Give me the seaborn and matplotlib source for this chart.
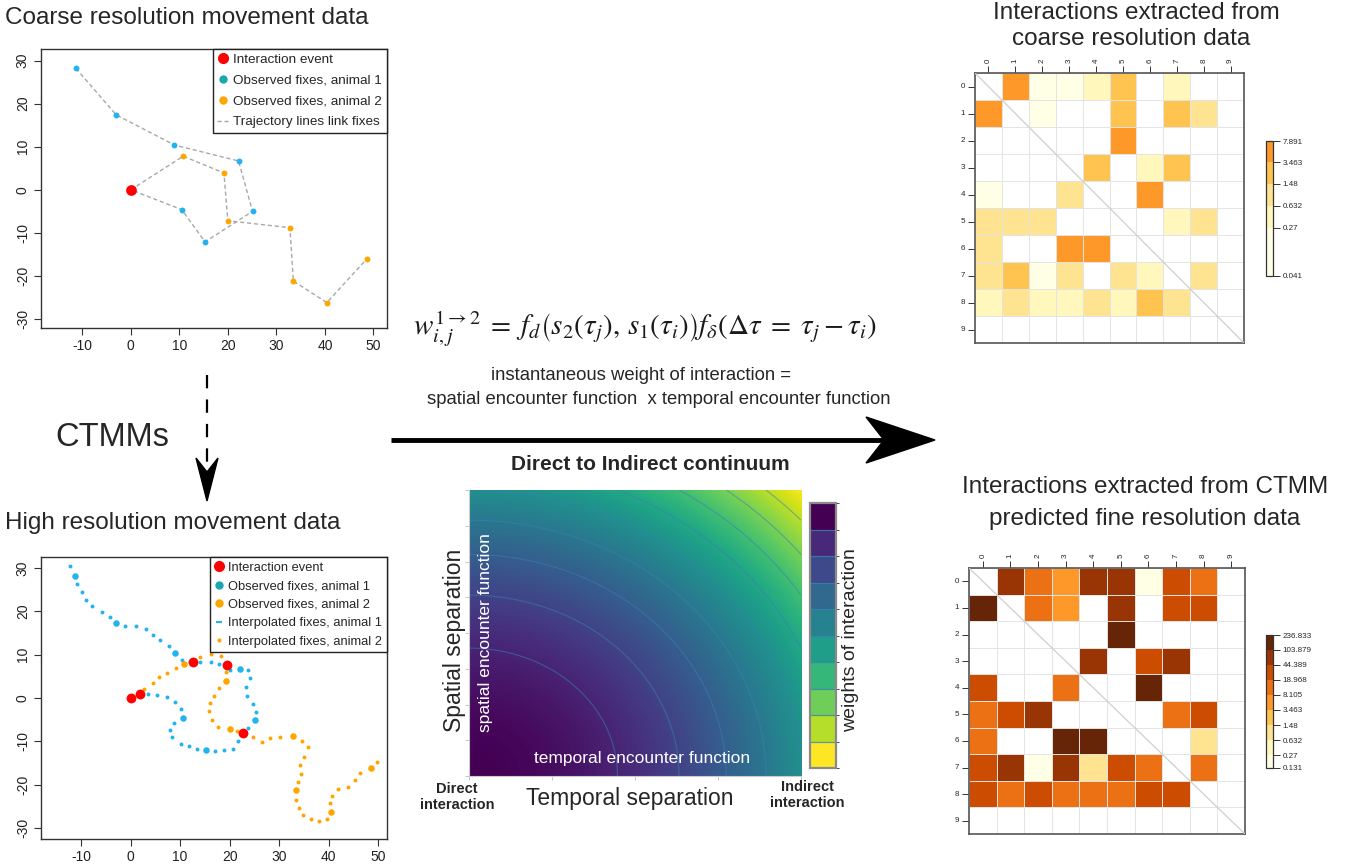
import numpy as np
import pandas as pd
import matplotlib
matplotlib.use("Agg")
import matplotlib.pyplot as plt
import seaborn as sns
from matplotlib.colors import ListedColormap, BoundaryNorm
from matplotlib.cm import ScalarMappable
from matplotlib.lines import Line2D
from matplotlib.patches import Polygon

sns.set_style("white")
plt.rcParams['font.family'] = ['Liberation Sans', 'DejaVu Sans']
plt.rcParams['mathtext.fontset'] = 'stix'
plt.rcParams['axes.unicode_minus'] = False

# ---------------- data ----------------
# coarse observed fixes
obs_a1_x = [-11.3, -3.0, 9.0, 22.2, 25.1, 15.3, 10.5, 0.0]
obs_a1_y = [28.2, 17.4, 10.4, 6.7, -5.0, -12.1, -4.6, 0.0]
obs_a2_x = [0.0, 10.8, 19.2, 20.0, 32.8, 33.5, 40.4, 48.6]
obs_a2_y = [0.0, 7.8, 3.9, -7.2, -8.8, -21.2, -26.2, -16.1]
coarse_event_x = [0.0]
coarse_event_y = [0.0]

# interpolated fixes (CTMM predicted)
interp_a1_x = [-12.2, -10.8, -9.9, -9.0, -7.8, -5.8, -4.1, -1.1, 1.0, 3.1, 4.5, 6.0, 7.7,
               10.3, 12.1, 14.0, 16.2, 17.9, 20.1, 23.7, 24.2, 23.3, 23.6, 24.8, 25.4,
               23.8, 21.6, 20.7, 18.8, 17.1, 13.4, 11.8, 10.1, 8.4, 7.9, 8.8, 10.1,
               8.9, 7.3, 5.3, 3.6]
interp_a1_y = [30.4, 26.2, 24.5, 22.7, 21.2, 19.9, 18.7, 16.5, 16.5, 16.0, 14.5, 13.4, 12.0,
               8.7, 8.2, 8.3, 8.4, 7.8, 6.4, 6.5, 4.5, 2.6, 0.5, -1.3, -3.2,
               -7.0, -10.0, -11.7, -12.0, -12.3, -11.7, -11.1, -10.5, -9.1, -7.4, -5.8, -2.6,
               -1.0, 0.2, 0.6, 0.9]
interp_a2_x = [2.7, 4.5, 5.8, 7.4, 9.1, 14.1, 16.2, 18.2, 19.2, 17.9, 16.8, 16.0, 15.8,
               16.4, 17.6, 21.5, 24.7, 26.5, 28.2, 30.1, 34.7, 35.8, 35.0, 34.3, 34.5,
               33.8, 33.4, 34.0, 34.9, 36.4, 38.1, 39.7, 40.3, 40.6, 42.0, 43.9, 45.4,
               46.4, 49.8]
interp_a2_y = [2.1, 3.4, 4.8, 5.8, 6.8, 9.5, 10.1, 9.7, 5.9, 2.4, 0.5, -1.2, -2.9,
               -5.1, -6.7, -7.6, -8.9, -10.2, -9.3, -8.9, -9.9, -11.4, -13.7, -15.5, -17.5,
               -19.3, -23.4, -25.3, -26.9, -27.9, -28.4, -27.9, -24.3, -22.5, -21.0, -20.4, -18.9,
               -17.4, -14.7]
fine_event_x = [0.0, 1.8, 12.7, 19.5, 22.7]
fine_event_y = [0.0, 0.9, 8.4, 7.7, -8.1]

individuals = [str(i) for i in range(10)]
nan = np.nan
coarse_matrix = [
    [nan, 5.5, 0.12, 0.12, 0.45, 2.3, nan, 0.45, nan, nan],
    [5.5, nan, 0.12, nan, nan, 2.3, nan, 2.3, 1.0, nan],
    [nan, nan, nan, nan, nan, 5.5, nan, nan, nan, nan],
    [nan, nan, nan, nan, 2.3, nan, 0.45, 2.3, nan, nan],
    [0.12, nan, nan, 1.0, nan, nan, 5.5, nan, nan, nan],
    [1.0, 1.0, 1.0, nan, nan, nan, nan, 0.45, 1.0, nan],
    [1.0, nan, nan, 5.5, 5.5, nan, nan, nan, nan, nan],
    [1.0, 2.3, 0.12, 1.0, nan, 1.0, 0.45, nan, 1.0, nan],
    [0.45, 1.0, 0.45, 0.45, 1.0, 0.45, 2.3, 1.0, nan, nan],
    [nan] * 10,
]
coarse_bounds = [0.041, 0.27, 0.632, 1.48, 3.463, 7.891]
coarse_bound_labels = ["0.041", "0.27", "0.632", "1.48", "3.463", "7.891"]

fine_matrix = [
    [nan, 70, 12.5, 5.5, 70, 70, 0.2, 30, 12.5, nan],
    [160, nan, 12.5, 5.5, nan, 70, nan, 30, 30, nan],
    [nan, nan, nan, nan, nan, 160, nan, nan, nan, nan],
    [nan, nan, nan, nan, 70, nan, 30, 70, nan, nan],
    [30, nan, nan, 12.5, nan, nan, 160, nan, nan, nan],
    [12.5, 30, 70, nan, nan, nan, nan, 12.5, 30, nan],
    [12.5, nan, nan, 160, 160, nan, nan, nan, 1.0, nan],
    [30, 70, 0.2, 70, 1.0, 30, 12.5, nan, 12.5, nan],
    [30, 12.5, 30, 12.5, 12.5, 12.5, 30, 30, nan, nan],
    [nan] * 10,
]
fine_bounds = [0.131, 0.27, 0.632, 1.48, 3.463, 8.105, 18.968, 44.389, 103.879, 236.833]
fine_bound_labels = ["0.131", "0.27", "0.632", "1.48", "3.463", "8.105", "18.968",
                     "44.389", "103.879", "236.833"]

ylorbr = ["#FFFFE5", "#FFF7BC", "#FEE391", "#FEC44F", "#FE9929",
          "#EC7014", "#CC4C02", "#993404", "#662506"]

temporal_sep = np.linspace(0, 1, 301)
spatial_sep = np.linspace(0, 1, 301)

# colours
BLUE = "#22b4ee"
ORANGE = "#FFA500"
TEAL = "#1aa7b0"
RED = "#FF0000"
GREY = "#a8a8a8"

W, H = 1355, 864
fig = plt.figure(figsize=(W / 100, H / 100), dpi=100)


def fr(x0, y0, x1, y1):
    return [x0 / W, 1 - y1 / H, (x1 - x0) / W, (y1 - y0) / H]


def r_style(ax, xlim, ylim):
    ax.set_xlim(xlim)
    ax.set_ylim(ylim)
    ax.set_xticks([-10, 0, 10, 20, 30, 40, 50])
    ax.set_yticks([-30, -20, -10, 0, 10, 20, 30])
    ax.tick_params(axis='both', which='major', bottom=True, left=True, length=5,
                   width=0.8, color='#333333', labelsize=10, labelcolor='#222222', pad=3)
    ax.tick_params(axis='y', labelrotation=90)
    for t in ax.get_yticklabels():
        t.set_va('center')
    for s in ax.spines.values():
        s.set_visible(True)
        s.set_color('#333333')
        s.set_linewidth(1.0)
    ax.set_xlabel('')
    ax.set_ylabel('')


# ---------------- top-left: coarse movement ----------------
ax1 = fig.add_axes(fr(41, 49, 387, 328))
sns.lineplot(x=obs_a1_x, y=obs_a1_y, sort=False, estimator=None, ax=ax1,
             color=GREY, lw=1, linestyle=(0, (3, 2)))
sns.lineplot(x=obs_a2_x, y=obs_a2_y, sort=False, estimator=None, ax=ax1,
             color=GREY, lw=1, linestyle=(0, (3, 2)))
sns.scatterplot(x=obs_a1_x, y=obs_a1_y, ax=ax1, color=BLUE, s=18, linewidth=0, zorder=3)
sns.scatterplot(x=obs_a2_x, y=obs_a2_y, ax=ax1, color=ORANGE, s=18, linewidth=0, zorder=3)
sns.scatterplot(x=coarse_event_x, y=coarse_event_y, ax=ax1, color=RED, s=60, linewidth=0, zorder=4)
r_style(ax1, (-18.5, 52.8), (-32.1, 32.7))
h1 = [Line2D([], [], marker='o', ls='', color=RED, markersize=7),
      Line2D([], [], marker='o', ls='', color=TEAL, markersize=5),
      Line2D([], [], marker='o', ls='', color=ORANGE, markersize=5),
      Line2D([], [], ls=(0, (3, 2)), color=GREY, lw=1)]
lg = ax1.legend(h1, ["Interaction event", "Observed fixes, animal 1",
                     "Observed fixes, animal 2", "Trajectory lines link fixes"],
                loc='upper right', bbox_to_anchor=(1.0, 1.0), borderaxespad=0,
                fontsize=9.7, frameon=True, fancybox=False, handlelength=0.9,
                handletextpad=0.3, labelspacing=0.62, borderpad=0.35, framealpha=1)
lg.get_frame().set_edgecolor('#222222')
lg.get_frame().set_linewidth(1.0)

# ---------------- bottom-left: fine movement ----------------
ax2 = fig.add_axes(fr(41, 557, 387, 839))
sns.scatterplot(x=interp_a1_x, y=interp_a1_y, ax=ax2, color=BLUE, s=8, linewidth=0, zorder=3)
sns.scatterplot(x=interp_a2_x, y=interp_a2_y, ax=ax2, color=ORANGE, s=8, linewidth=0, zorder=3)
sns.scatterplot(x=obs_a1_x[:-1], y=obs_a1_y[:-1], ax=ax2, color=BLUE, s=22, linewidth=0, zorder=3)
sns.scatterplot(x=obs_a2_x, y=obs_a2_y, ax=ax2, color=ORANGE, s=22, linewidth=0, zorder=3)
sns.scatterplot(x=fine_event_x, y=fine_event_y, ax=ax2, color=RED, s=50, linewidth=0, zorder=4)
r_style(ax2, (-18.1, 51.8), (-32.5, 32.5))
h2 = [Line2D([], [], marker='o', ls='', color=RED, markersize=7),
      Line2D([], [], marker='o', ls='', color=TEAL, markersize=5),
      Line2D([], [], marker='o', ls='', color=ORANGE, markersize=5),
      Line2D([], [], marker='_', ls='', color=BLUE, markersize=4, mew=1.5),
      Line2D([], [], marker='o', ls='', color=ORANGE, markersize=2)]
lg2 = ax2.legend(h2, ["Interaction event", "Observed fixes, animal 1",
                      "Observed fixes, animal 2", "Interpolated fixes, animal 1",
                      "Interpolated fixes, animal 2"],
                 loc='upper right', bbox_to_anchor=(1.0, 1.0), borderaxespad=0,
                 fontsize=9.3, frameon=True, fancybox=False, handlelength=0.8,
                 handletextpad=0.3, labelspacing=0.5, borderpad=0.35, framealpha=1)
lg2.get_frame().set_edgecolor('#222222')
lg2.get_frame().set_linewidth(1.0)


# ---------------- heatmaps ----------------
def draw_matrix(ax, cax, values, bounds, bound_labels):
    logb = np.log10(bounds)
    cmap = ListedColormap(ylorbr[:len(bounds) - 1])
    norm = BoundaryNorm(logb, cmap.N)
    df = pd.DataFrame(np.log10(np.array(values, dtype=float)), index=individuals,
                      columns=individuals)
    sns.heatmap(df, ax=ax, cmap=cmap, norm=norm, cbar=True, cbar_ax=cax,
                cbar_kws={'spacing': 'proportional', 'ticks': logb})
    n = len(individuals)
    for i in range(n + 1):
        ax.axhline(i, color='#e4e4e4', lw=0.7, zorder=2)
        ax.axvline(i, color='#e4e4e4', lw=0.7, zorder=2)
    ax.plot([0, n], [0, n], color='#cfcfcf', lw=0.9, zorder=3)
    for s in ax.spines.values():
        s.set_visible(True)
        s.set_color('#555555')
        s.set_linewidth(1.2)
    ax.xaxis.tick_top()
    ax.tick_params(axis='x', top=True, bottom=False, labeltop=True, labelbottom=False,
                   length=5, width=0.7, color='#333333', labelsize=5.8, pad=2,
                   labelrotation=90)
    ax.tick_params(axis='y', left=True, length=5, width=0.7, color='#333333',
                   labelsize=5.8, pad=2, labelrotation=0)
    cb = ax.collections[0].colorbar
    cb.set_ticks(logb)
    cb.set_ticklabels(bound_labels)
    cb.outline.set_linewidth(0.9)
    cb.outline.set_edgecolor('#333333')
    cax.tick_params(right=True, length=5, width=0.7, color='#333333', labelsize=5.8, pad=2)


ax3 = fig.add_axes(fr(975, 73, 1244, 343))
cax3 = fig.add_axes(fr(1266, 141, 1273, 276))
draw_matrix(ax3, cax3, coarse_matrix, coarse_bounds, coarse_bound_labels)

ax4 = fig.add_axes(fr(969, 568, 1245, 834))
cax4 = fig.add_axes(fr(1266, 635, 1273, 768))
draw_matrix(ax4, cax4, fine_matrix, fine_bounds, fine_bound_labels)

# ---------------- contour continuum ----------------
ax5 = fig.add_axes(fr(469, 490, 801, 776))
T, S = np.meshgrid(temporal_sep, spatial_sep)
weights = 1 - (T ** 2 + S ** 2) / 2
ax5.imshow(weights, origin='lower', extent=[0, 1, 0, 1], aspect='auto',
           cmap='viridis_r', vmin=0, vmax=1, interpolation='bilinear')
ax5.contour(T, S, weights, levels=np.arange(0.1, 0.95, 0.1), colors='#3a7fb5',
            linewidths=0.8, alpha=0.55)
ax5.set_xlim(0, 1)
ax5.set_ylim(0, 1)
ax5.set_xticks([0, 0.25, 0.5, 0.75, 1])
ax5.set_yticks(np.arange(0, 1.01, 0.125))
ax5.set_xticklabels([])
ax5.set_yticklabels([])
ax5.tick_params(bottom=True, left=True, length=3, width=0.6, color='#bbbbbb')
for k, s in ax5.spines.items():
    s.set_visible(k in ('left', 'bottom'))
    s.set_color('#cccccc')
ax5.text(0.05, 0.5, "spatial encounter function", rotation=90, color='white',
         fontsize=12.5, ha='center', va='center', transform=ax5.transAxes)
ax5.text(0.52, 0.06, "temporal encounter function", color='white',
         fontsize=12.5, ha='center', va='center', transform=ax5.transAxes)

cax5 = fig.add_axes(fr(810, 503, 836, 768))
wb = np.linspace(0, 1, 11)
cb5 = fig.colorbar(ScalarMappable(norm=BoundaryNorm(wb, 10), cmap=plt.get_cmap('viridis_r', 10)),
                   cax=cax5, ticks=[])
for b in wb[1:-1]:
    cax5.axhline(b, color='#3a7fb5', lw=0.9, alpha=0.8)
cb5.outline.set_edgecolor('#8a8a8a')
cb5.outline.set_linewidth(1.6)

# ---------------- overlay: text and arrows ----------------
ov = fig.add_axes([0, 0, 1, 1], zorder=10)
ov.set_xlim(0, W)
ov.set_ylim(H, 0)
ov.axis('off')
ov.patch.set_alpha(0)

TS = 17.5
ov.text(5, 18, "Coarse resolution movement data", fontsize=TS, ha='left', va='center')
ov.text(5, 523, "High resolution movement data", fontsize=TS, ha='left', va='center')
ov.text(1136, 13, "Interactions extracted from", fontsize=TS, ha='center', va='center')
ov.text(1131, 39, "coarse resolution data", fontsize=TS, ha='center', va='center')
ov.text(1145, 487, "Interactions extracted from CTMM", fontsize=TS, ha='center', va='center')
ov.text(1145, 519, "predicted fine resolution data", fontsize=TS, ha='center', va='center')

ov.text(112, 437, "CTMMs", fontsize=23.5, ha='center', va='center')
ov.text(645, 328, r'$w_{i,j}^{1\rightarrow 2}\;=\;f_d\left(s_2(\tau_j),\, s_1(\tau_i)\right) f_\delta(\Delta\tau\;=\;\tau_j - \tau_i)$',
        fontsize=21, ha='center', va='center', color='#1a1a1a')
ov.text(641, 375, "instantaneous weight of interaction =", fontsize=13.3, ha='center', va='center')
ov.text(659, 399, "spatial encounter function  x temporal encounter function", fontsize=13.3,
        ha='center', va='center')
ov.text(650, 465, "Direct to Indirect continuum", fontsize=15, fontweight='bold',
        ha='center', va='center')
ov.text(455, 640, "Spatial separation", fontsize=16.5, rotation=90, ha='center', va='center')
ov.text(630, 798, "Temporal separation", fontsize=16.5, ha='center', va='center')
ov.text(851, 640, "weights of interaction", fontsize=14, rotation=90, ha='center', va='center')
ov.text(457, 797, "Direct\ninteraction", fontsize=10.5, fontweight='bold', ha='center',
        va='center', linespacing=1.25)
ov.text(807, 795, "Indirect\ninteraction", fontsize=10.5, fontweight='bold', ha='center',
        va='center', linespacing=1.25)

# big horizontal arrow
ov.plot([391, 885], [440, 440], color='black', lw=3.5, solid_capstyle='butt')
ov.add_patch(Polygon([[935, 440], [866, 417], [884, 440], [866, 463]], closed=True,
                     color='black'))
# dashed vertical arrow
ov.plot([207, 207], [375, 470], color='black', lw=1.6, linestyle=(0, (6, 5)))
ov.add_patch(Polygon([[207, 501], [196, 458], [207, 472], [218, 458]], closed=True,
                     color='black'))

fig.savefig("out.png", dpi=100)
